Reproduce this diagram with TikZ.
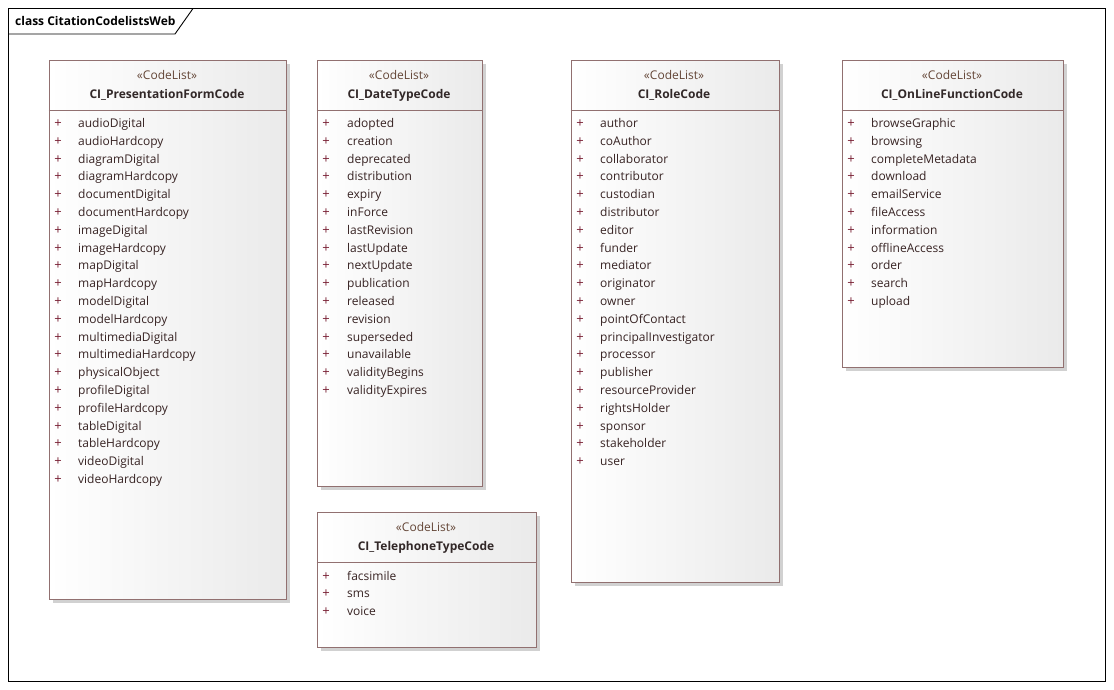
\documentclass[tikz,border=0pt]{standalone}
\usepackage{fontspec}
\setmainfont{Open Sans}
\usetikzlibrary{shadows}
\definecolor{bordc}{RGB}{145,112,112}
\definecolor{fillr}{RGB}{234,234,234}
\definecolor{itemc}{RGB}{55,35,35}
\definecolor{plusc}{RGB}{120,30,50}
\definecolor{stereoc}{RGB}{100,70,55}
\definecolor{namec}{RGB}{50,40,40}
\tikzset{
  cls/.style={draw=bordc, line width=1.2pt, left color=white, right color=fillr,
    inner sep=0pt, anchor=north west,
    drop shadow={shadow xshift=4pt, shadow yshift=-4pt, fill=black!18, opacity=1}},
  sep/.style={draw=bordc, line width=1.2pt},
  txt/.style={inner sep=0pt, text height=9pt, text depth=3pt},
  stereo/.style={txt, font=\fontsize{12}{14}\selectfont, text=stereoc},
  cname/.style={txt, font=\fontsize{12}{14}\selectfont\bfseries, text=namec},
  item/.style={txt, font=\fontsize{12}{14}\selectfont, text=itemc, anchor=west},
  plus/.style={txt, font=\fontsize{13}{14}\selectfont, text=plusc},
  frame/.style={draw=black, line width=1.2pt},
}
\begin{document}
\begin{tikzpicture}[x=1pt,y=-1pt]
\useasboundingbox (0,0) rectangle (1114,689);
% frame
\draw[frame] (8.5,8.5) rectangle (1105.5,681.5);
\coordinate (tabA) at (8.5,34);
\coordinate (tabB) at (175,34);
\coordinate (tabC) at (193,8.5);
\draw[frame, line width=0.9pt] (tabA) -- (tabB) -- (tabC);
\node[txt, font=\fontsize{12}{14}\selectfont\bfseries, anchor=west] (title) at (15,22) {class CitationCodelistsWeb};

% Box 1
\node[cls, minimum width=237pt, minimum height=539pt] (pf) at (48.5,59.5) {};
\draw[sep] (pf.west |- 0,110.5) -- (pf.east |- 0,110.5);
\node[stereo] (pfs) at (167,76.5) {«CodeList»};
\node[cname] (pfn) at (167,95) {CI\_PresentationFormCode};
\foreach \t [count=\i] in {audioDigital,audioHardcopy,diagramDigital,diagramHardcopy,documentDigital,documentHardcopy,imageDigital,imageHardcopy,mapDigital,mapHardcopy,modelDigital,modelHardcopy,multimediaDigital,multimediaHardcopy,physicalObject,profileDigital,profileHardcopy,tableDigital,tableHardcopy,videoDigital,videoHardcopy}{
  \node[plus] (pfp\i) at (58,{124.5+17.8*(\i-1)}) {+};
  \node[item] (pfi\i) at (78,{124.5+17.8*(\i-1)}) {\t};
}

% Box 2
\node[cls, minimum width=165pt, minimum height=426pt] (dt) at (316.5,59.5) {};
\draw[sep] (dt.west |- 0,110.5) -- (dt.east |- 0,110.5);
\node[stereo] (dts) at (399,76.5) {«CodeList»};
\node[cname] (dtn) at (399,95) {CI\_DateTypeCode};
\foreach \t [count=\i] in {adopted,creation,deprecated,distribution,expiry,inForce,lastRevision,lastUpdate,nextUpdate,publication,released,revision,superseded,unavailable,validityBegins,validityExpires}{
  \node[plus] (dtp\i) at (326,{124.5+17.8*(\i-1)}) {+};
  \node[item] (dti\i) at (347,{124.5+17.8*(\i-1)}) {\t};
}

% Box 3
\node[cls, minimum width=219pt, minimum height=135pt] (tt) at (316.5,511.5) {};
\draw[sep] (tt.west |- 0,562.5) -- (tt.east |- 0,562.5);
\node[stereo] (tts) at (426,528.5) {«CodeList»};
\node[cname] (ttn) at (426,547) {CI\_TelephoneTypeCode};
\foreach \t [count=\i] in {facsimile,sms,voice}{
  \node[plus] (ttp\i) at (326,{577+17.8*(\i-1)}) {+};
  \node[item] (tti\i) at (347,{577+17.8*(\i-1)}) {\t};
}

% Box 4
\node[cls, minimum width=208pt, minimum height=522pt] (rc) at (570.5,59.5) {};
\draw[sep] (rc.west |- 0,110.5) -- (rc.east |- 0,110.5);
\node[stereo] (rcs) at (674,76.5) {«CodeList»};
\node[cname] (rcn) at (674,95) {CI\_RoleCode};
\foreach \t [count=\i] in {author,coAuthor,collaborator,contributor,custodian,distributor,editor,funder,mediator,originator,owner,pointOfContact,principalInvestigator,processor,publisher,resourceProvider,rightsHolder,sponsor,stakeholder,user}{
  \node[plus] (rcp\i) at (580,{124.5+17.8*(\i-1)}) {+};
  \node[item] (rci\i) at (600,{124.5+17.8*(\i-1)}) {\t};
}

% Box 5
\node[cls, minimum width=221pt, minimum height=307pt] (of) at (841.5,59.5) {};
\draw[sep] (of.west |- 0,110.5) -- (of.east |- 0,110.5);
\node[stereo] (ofs) at (952,76.5) {«CodeList»};
\node[cname] (ofn) at (952,95) {CI\_OnLineFunctionCode};
\foreach \t [count=\i] in {browseGraphic,browsing,completeMetadata,download,emailService,fileAccess,information,offlineAccess,order,search,upload}{
  \node[plus] (ofp\i) at (851,{124.5+17.8*(\i-1)}) {+};
  \node[item] (ofi\i) at (871,{124.5+17.8*(\i-1)}) {\t};
}
\end{tikzpicture}
\end{document}
